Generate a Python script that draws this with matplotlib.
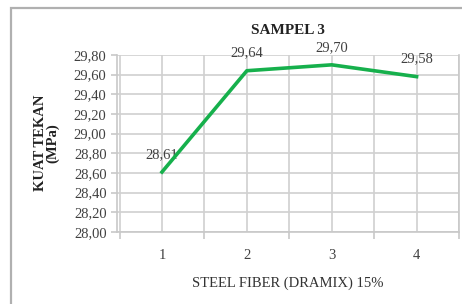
import matplotlib.pyplot as plt
from matplotlib.patches import Rectangle

# data
sampel = [1, 2, 3, 4]
kuat_tekan = [28.61, 29.64, 29.70, 29.58]
label_txt = ['28,61', '29,64', '29,70', '29,58']
y_ticks = [28.0, 28.2, 28.4, 28.6, 28.8, 29.0, 29.2, 29.4, 29.6, 29.8]

plt.rcParams['font.family'] = ['Liberation Serif', 'DejaVu Serif']

fig = plt.figure(figsize=(4.62, 3.04), dpi=100)
fig.patches.append(Rectangle((11 / 462, -0.1), 1.2, (304 - 8) / 304 + 0.1,
                             transform=fig.transFigure, fill=False,
                             edgecolor='#b0b0b0', linewidth=1.6))

ax = fig.add_axes([117 / 462, 1 - 232 / 304, (459 - 117) / 462, (232 - 55) / 304])

ax.plot(sampel, kuat_tekan, color='#16b04c', linewidth=2.6, zorder=3)
for x, y, t in zip(sampel, kuat_tekan, label_txt):
    ax.annotate(t, (x, y), xytext=(0, 8), textcoords='offset points',
                ha='center', va='bottom', fontsize=10.5, color='#404040', zorder=2)

ax.set_xlim(0.47, 4.5)
ax.set_ylim(28.0, 29.8)
ax.set_yticks(y_ticks)
ax.set_yticklabels([('%.2f' % v).replace('.', ',') for v in y_ticks])
ax.set_xticks(sampel)
ax.set_xticks([0.5, 1.5, 2.5, 3.5, 4.5], minor=True)
ax.tick_params(axis='x', which='major', length=0, pad=12, labelsize=10.5, colors='#404040')
ax.tick_params(axis='x', which='minor', length=5, color='#c8c8c8', width=1.2)
ax.tick_params(axis='y', length=4, color='#c8c8c8', width=1.2, labelsize=10.5,
               labelcolor='#404040')

ax.grid(True, which='both', color='#d0d0d0', linewidth=1.2)
ax.set_axisbelow(True)
ax.spines['top'].set_visible(False)
for s in ['left', 'bottom', 'right']:
    ax.spines[s].set_color('#c8c8c8')
    ax.spines[s].set_linewidth(1.2)

ax.set_title('SAMPEL 3', fontsize=11, fontweight='bold', color='#222222', pad=15)
ax.set_xlabel('STEEL FIBER (DRAMIX) 15%', fontsize=10.5, color='#333333', labelpad=11)
fig.text(40 / 462, 1 - 143 / 304, 'KUAT TEKAN', rotation=90, ha='center', va='center',
         fontsize=10.5, fontweight='bold', color='#222222')
fig.text(53 / 462, 1 - 143 / 304, '(MPa)', rotation=90, ha='center', va='center',
         fontsize=10.5, fontweight='bold', color='#222222')

fig.savefig('out.png', dpi=100)
